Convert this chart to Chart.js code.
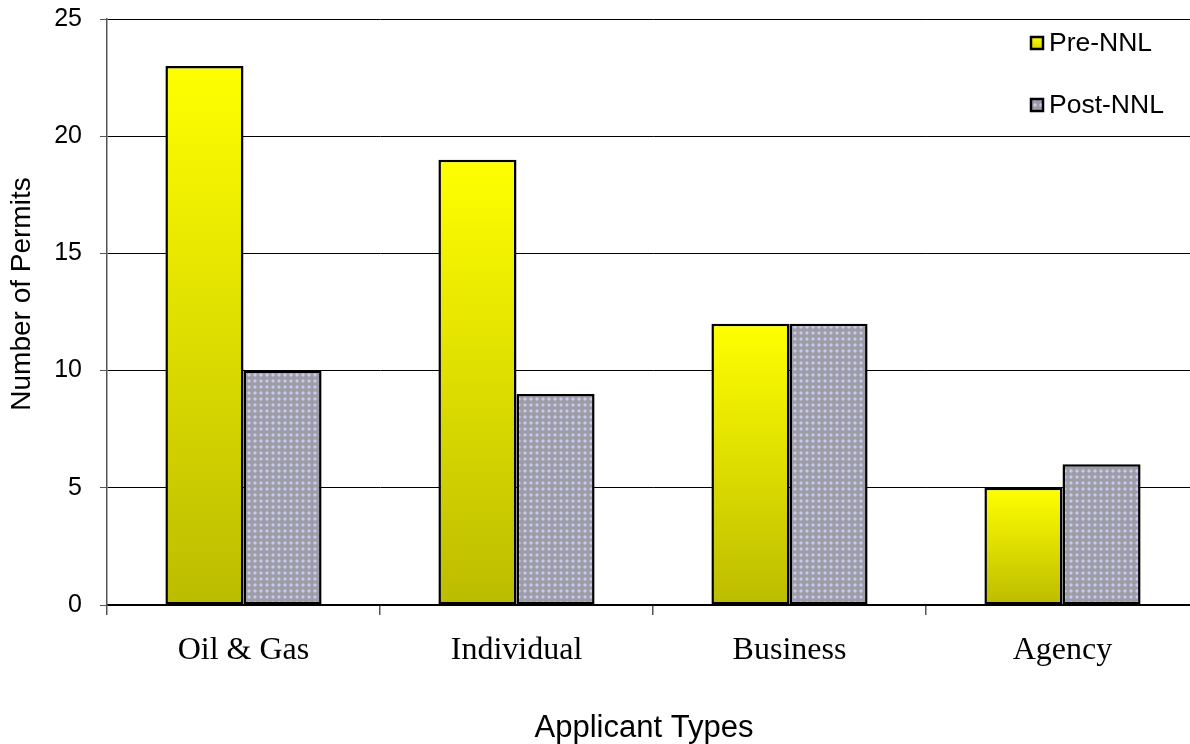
<!DOCTYPE html>
<html>
<head>
<meta charset="utf-8">
<script src="https://cdn.jsdelivr.net/npm/chart.js@4/dist/chart.umd.min.js"></script>
<style>
  html, body { margin: 0; padding: 0; background: #fff; overflow: hidden; }
  #wrap { width: 1190px; height: 744px; overflow: hidden; }
  #c { display: block; }
</style>
</head>
<body>
<div id="wrap"><canvas id="c" width="1200" height="744"></canvas></div>
<script>
const categories = ['Oil & Gas', 'Individual', 'Business', 'Agency'];
const preNNL = [23, 19, 12, 5];
const postNNL = [10, 9, 12, 6];
const seriesNames = ['Pre-NNL', 'Post-NNL'];
const yTicks = [0, 5, 10, 15, 20, 25];
const xTitle = 'Applicant Types';
const yTitle = 'Number of Permits';

const SANS = '"Liberation Sans", Arial, sans-serif';

// dotted grey fill used for the Post-NNL bars
function makeDotPattern(ctx) {
  const t = document.createElement('canvas');
  t.width = 6; t.height = 6;
  const g = t.getContext('2d');
  g.fillStyle = '#9d9da6';
  g.fillRect(0, 0, 6, 6);
  g.fillStyle = '#c9c9ee';
  g.fillRect(2, 2, 2, 2);
  g.fillStyle = '#b4b4d0';
  g.fillRect(1, 2, 1, 2); g.fillRect(4, 2, 1, 2);
  g.fillRect(2, 1, 2, 1); g.fillRect(2, 4, 2, 1);
  return ctx.createPattern(t, 'repeat');
}

const ctx = document.getElementById('c').getContext('2d');
const dotPattern = makeDotPattern(ctx);

// each yellow bar fades from bright yellow at its top to olive at its base
function yellowFade(context) {
  const chart = context.chart;
  const ys = chart.scales.y;
  if (!ys || context.parsed === undefined) return '#ffff00';
  const top = ys.getPixelForValue(context.parsed.y);
  const base = ys.getPixelForValue(0);
  if (!isFinite(top) || !isFinite(base) || top === base) return '#ffff00';
  const g = chart.ctx.createLinearGradient(0, top, 0, base);
  g.addColorStop(0, '#ffff00');
  g.addColorStop(1, '#bcbc00');
  return g;
}

// legend in the top right corner of the plot
const cornerLegend = {
  id: 'cornerLegend',
  afterDraw(chart) {
    const c = chart.ctx;
    const rows = [43, 105];
    c.save();
    c.font = '26.5px ' + SANS;
    c.textBaseline = 'middle';
    c.textAlign = 'left';
    seriesNames.forEach((name, i) => {
      const y = rows[i];
      const x = 1031;
      if (i === 0) {
        const g = c.createLinearGradient(0, y - 6, 0, y + 6);
        g.addColorStop(0, '#ffff00'); g.addColorStop(1, '#d4d400');
        c.fillStyle = g;
      } else {
        c.fillStyle = dotPattern;
      }
      c.fillRect(x, y - 6, 12, 12);
      c.lineWidth = 2.5;
      c.strokeStyle = '#000';
      c.strokeRect(x, y - 6, 12, 12);
      c.fillStyle = '#000';
      c.fillText(name, x + 18, y + 1);
    });
    c.restore();
  }
};

// axis titles
const axisTitles = {
  id: 'axisTitles',
  afterDraw(chart) {
    const c = chart.ctx;
    c.save();
    c.fillStyle = '#000';
    c.textAlign = 'center';
    c.textBaseline = 'alphabetic';
    c.font = '31px ' + SANS;
    c.fillText(xTitle, 644, 737);
    c.textBaseline = 'middle';
    c.translate(22, 294);
    c.rotate(-Math.PI / 2);
    c.font = '28px ' + SANS;
    c.fillText(yTitle, 0, 0);
    c.restore();
  }
};

new Chart(ctx, {
  type: 'bar',
  data: {
    labels: categories,
    datasets: [
      {
        label: seriesNames[0],
        data: preNNL,
        backgroundColor: yellowFade,
        borderColor: '#000',
        borderWidth: 2.5,
        borderSkipped: false,
        barPercentage: 1,
        categoryPercentage: 0.572
      },
      {
        label: seriesNames[1],
        data: postNNL,
        backgroundColor: dotPattern,
        borderColor: '#000',
        borderWidth: 2.5,
        borderSkipped: false,
        barPercentage: 1,
        categoryPercentage: 0.572
      }
    ]
  },
  options: {
    responsive: false,
    animation: false,
    layout: { padding: { top: 19, right: 1, left: 0, bottom: 0 } },
    plugins: {
      legend: { display: false },
      tooltip: { enabled: false }
    },
    scales: {
      x: {
        offset: true,
        grid: {
          display: true,
          offset: true,
          drawOnChartArea: false,
          drawTicks: true,
          tickLength: 10,
          color: '#555',
          lineWidth: 1.5
        },
        border: { display: true, color: '#000', width: 1.5 },
        ticks: {
          color: '#000',
          padding: 16,
          maxRotation: 0,
          font: { family: '"Liberation Serif", "Times New Roman", serif', size: 32 }
        },
        afterFit(scale) {
          scale.height = 139;
          scale.paddingLeft = 0;
          scale.paddingRight = 0;
        }
      },
      y: {
        min: 0,
        max: 25,
        afterBuildTicks(scale) { scale.ticks = yTicks.map(v => ({ value: v })); },
        grid: {
          color: '#000',
          lineWidth: 1,
          drawTicks: true,
          tickLength: 7,
          tickColor: '#555'
        },
        border: { display: true, color: '#555', width: 1.5 },
        ticks: {
          color: '#000',
          padding: 18,
          font: { family: SANS, size: 25 }
        },
        afterFit(scale) {
          scale.width = 107;
          scale.paddingTop = 0;
          scale.paddingBottom = 0;
        }
      }
    }
  },
  plugins: [cornerLegend, axisTitles]
});
</script>
</body>
</html>
